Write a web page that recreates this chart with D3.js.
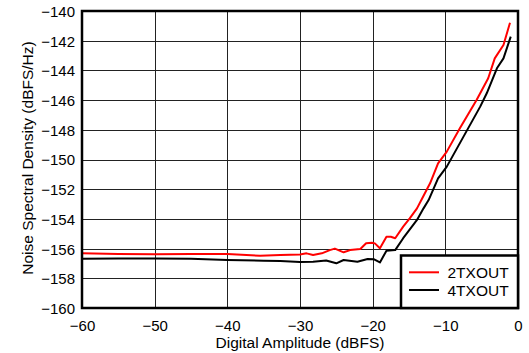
<!DOCTYPE html>
<html><head><meta charset="utf-8">
<script src="https://cdn.jsdelivr.net/npm/d3@7"></script>
<style>body{margin:0;background:#fff}svg{display:block}text{font-family:"Liberation Sans",Arial,sans-serif;fill:#000}</style>
</head><body><svg id="c" width="529" height="353"></svg>
<script>
const xTicks=[-60,-50,-40,-30,-20,-10,0];
const yTicks=[-160,-158,-156,-154,-152,-150,-148,-146,-144,-142,-140];
const seriesNames=["2TXOUT","4TXOUT"];
const seriesColors=["#ff0000","#000000"];
const amp2=[-60,-55,-50,-45,-40,-35.5,-32.7,-30,-29.1,-28.2,-27,-25.9,-25.2,-24,-23.1,-21.7,-20.9,-20.1,-19.7,-19,-18.1,-17.5,-16.9,-15.8,-14.9,-13.9,-13.3,-12.1,-11,-9.8,-8,-5.7,-4.1,-3.2,-2,-1.1];
const nsd2=[-156.32,-156.37,-156.38,-156.37,-156.37,-156.48,-156.43,-156.39,-156.32,-156.43,-156.32,-156.1,-156.0,-156.25,-156.1,-156.03,-155.64,-155.6,-155.65,-155.98,-155.2,-155.2,-155.3,-154.52,-153.96,-153.29,-152.73,-151.6,-150.26,-149.47,-147.9,-145.99,-144.53,-143.19,-142.29,-140.79];
const amp4=[-60,-55,-50,-45,-40,-35,-32.7,-30,-28.2,-26.4,-25,-24,-22.1,-20.7,-19.8,-19,-18.1,-16.9,-15.8,-13.9,-13,-12.3,-11,-9.8,-7.5,-5.2,-4.3,-2.9,-2,-1];
const nsd4=[-156.68,-156.67,-156.66,-156.69,-156.77,-156.82,-156.84,-156.9,-156.88,-156.8,-156.99,-156.77,-156.88,-156.7,-156.72,-156.93,-156.14,-156.1,-155.3,-154.07,-153.29,-152.73,-151.27,-150.48,-148.46,-146.44,-145.54,-143.86,-143.19,-141.73];

const svg=d3.select("#c");
const L=82,R=518,T=11,B=308;
const x=d3.scaleLinear().domain([-60,0]).range([L,R]);
const y=d3.scaleLinear().domain([-160,-140]).range([B,T]);

// grid
const g=svg.append("g");
g.selectAll(".vg").data(xTicks.slice(1,-1)).join("line")
 .attr("x1",d=>Math.round(x(d))+0.5).attr("x2",d=>Math.round(x(d))+0.5).attr("y1",T).attr("y2",B)
 .attr("stroke","#222").attr("stroke-width",1);
g.selectAll(".hg").data(yTicks.slice(1,-1)).join("line")
 .attr("y1",d=>Math.round(y(d))+0.5).attr("y2",d=>Math.round(y(d))+0.5).attr("x1",L).attr("x2",R)
 .attr("stroke","#222").attr("stroke-width",1);

// axes labels
const xa=svg.append("g").attr("transform",`translate(0,${B})`).call(d3.axisBottom(x).tickValues(xTicks).tickSize(0).tickPadding(0).tickFormat(d3.format("d")));
const ya=svg.append("g").attr("transform",`translate(${L},0)`).call(d3.axisLeft(y).tickValues(yTicks).tickSize(0).tickPadding(7).tickFormat(d3.format("d")));
[xa,ya].forEach(a=>{a.select(".domain").remove();a.selectAll("text").attr("font-size",15).attr("font-family","Liberation Sans, Arial, sans-serif").attr("fill","#000");});
xa.selectAll("text").attr("y",23).attr("dy",0);
ya.selectAll("text").attr("dy","0.36em");

// lines
const line=d3.line().x(d=>x(d[0])).y(d=>y(d[1]));
const data=[d3.zip(amp2,nsd2),d3.zip(amp4,nsd4)];
svg.selectAll(".s").data(data).join("path").attr("d",line).attr("fill","none")
 .attr("stroke",(d,i)=>seriesColors[i]).attr("stroke-width",2).attr("stroke-linejoin","round");

// border
svg.append("rect").attr("x",L).attr("y",T).attr("width",R-L).attr("height",B-T).attr("fill","none").attr("stroke","#000").attr("stroke-width",2.5);

// legend
const lg=svg.append("g");
lg.append("rect").attr("x",401).attr("y",255.5).attr("width",R-401).attr("height",B-255.5).attr("fill","#fff").attr("stroke","#000").attr("stroke-width",2.5);
seriesNames.forEach((n,i)=>{
  const yy=272.3+i*17.7;
  lg.append("line").attr("x1",409).attr("x2",439).attr("y1",yy).attr("y2",yy).attr("stroke",seriesColors[i]).attr("stroke-width",2);
  lg.append("text").attr("x",447.5).attr("y",yy+6).attr("font-size",15.5).text(n);
});

// titles
svg.append("text").attr("x",(L+R)/2).attr("y",348).attr("text-anchor","middle").attr("font-size",15.5).text("Digital Amplitude (dBFS)");
svg.append("text").attr("transform",`translate(32.5,158) rotate(-90)`).attr("text-anchor","middle").attr("font-size",15.5).text("Noise Spectral Density (dBFS/Hz)");
</script></body></html>
